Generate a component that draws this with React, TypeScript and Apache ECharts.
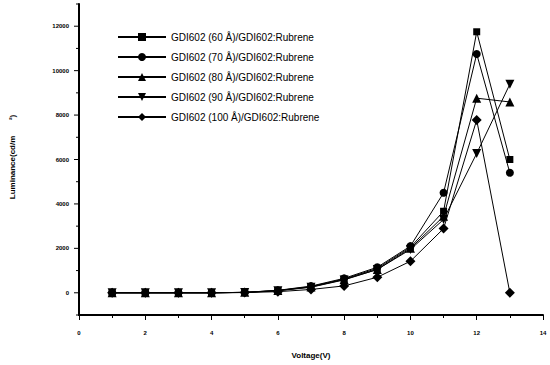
import React, { useEffect, useRef } from "react";
import * as echarts from "echarts";

const voltage = [1, 2, 3, 4, 5, 6, 7, 8, 9, 10, 11, 12, 13];
const seriesNames = [
  "GDI602 (60 Å)/GDI602:Rubrene",
  "GDI602 (70 Å)/GDI602:Rubrene",
  "GDI602 (80 Å)/GDI602:Rubrene",
  "GDI602 (90 Å)/GDI602:Rubrene",
  "GDI602 (100 Å)/GDI602:Rubrene",
];
const lum60 = [0, 0, 0, 0, 20, 100, 280, 620, 1100, 2050, 3670, 11750, 6000];
const lum70 = [0, 0, 0, 0, 20, 110, 300, 650, 1150, 2100, 4500, 10750, 5400];
const lum80 = [0, 0, 0, 0, 20, 100, 260, 600, 1050, 2000, 3440, 8760, 8590];
const lum90 = [0, 0, 0, 0, 15, 90, 250, 580, 1050, 1950, 3300, 6275, 9390];
const lum100 = [0, 0, 0, 0, 10, 50, 150, 310, 700, 1420, 2890, 7780, 0];
const allValues = [lum60, lum70, lum80, lum90, lum100];
const symbols = [
  "rect",
  "circle",
  "triangle",
  "path://M0,0 L10,0 L5,10 Z",
  "diamond",
];
const symbolSizes = [7, 8, 9, 9, 10];

export default function App() {
  const ref = useRef<HTMLDivElement>(null);
  useEffect(() => {
    if (!ref.current) return;
    const chart = echarts.init(ref.current, null, { renderer: "svg" });
    const font = "Liberation Sans";
    const tickLabel = { fontSize: 6, fontWeight: "bold", color: "#000", fontFamily: font };
    const yLabel = {
      type: "text",
      x: 12,
      y: 157,
      rotation: Math.PI / 2,
      style: {
        text: "Luminance(cd/m       ²)",
        fontSize: 8,
        fontWeight: "bold",
        fill: "#000",
        fontFamily: font,
        align: "center",
        verticalAlign: "middle",
      },
    };
    chart.setOption({
      animation: false,
      backgroundColor: "#fff",
      grid: { left: 79, right: 7, top: 4, bottom: 50 },
      legend: {
        orient: "vertical",
        left: 112,
        top: 27,
        itemWidth: 48,
        itemHeight: 10,
        itemGap: 10,
        textStyle: { fontSize: 10, color: "#000", fontFamily: font },
        data: seriesNames,
      },
      xAxis: {
        type: "value",
        min: 0,
        max: 14,
        interval: 2,
        name: "Voltage(V)",
        nameLocation: "middle",
        nameGap: 36,
        nameTextStyle: { fontSize: 8, fontWeight: "bold", color: "#000", fontFamily: font },
        axisLine: { onZero: false, lineStyle: { color: "#000", width: 2 } },
        axisTick: { inside: false, length: 5, lineStyle: { color: "#000" } },
        minorTick: { show: true, splitNumber: 2, length: 3, lineStyle: { color: "#000" } },
        axisLabel: { ...tickLabel, margin: 15 },
        splitLine: { show: false },
      },
      yAxis: {
        type: "value",
        min: -1000,
        max: 13000,
        interval: 1000,
        axisLine: { show: true, lineStyle: { color: "#000", width: 2 } },
        axisTick: { show: false },
        axisLabel: {
          ...tickLabel,
          margin: 10,
          formatter: (v: number) => (v >= 0 && v % 2000 === 0 ? String(v) : ""),
        },
        splitLine: { show: false },
      },
      graphic: [yLabel],
      series: allValues.map((vals, i) => ({
        name: seriesNames[i],
        type: "line",
        data: voltage.map((v, j) => [v, vals[j]]),
        symbol: symbols[i],
        symbolSize: symbolSizes[i],
        lineStyle: { color: "#000", width: 1 },
        itemStyle: { color: "#000" },
        z: 5,
      })),
    });
    const ticks: any[] = [];
    for (let v = -1000; v <= 13000; v += 1000) {
      const p = chart.convertToPixel({ gridIndex: 0 }, [0, v]) as number[];
      const len = v % 2000 === 0 ? 5 : 3;
      ticks.push({
        type: "line",
        shape: { x1: p[0] - len, y1: p[1], x2: p[0], y2: p[1] },
        style: { stroke: "#000", lineWidth: 1 },
      });
    }
    chart.setOption({ graphic: [yLabel, ...ticks] });
    return () => chart.dispose();
  }, []);
  return (
    <div
      ref={ref}
      style={{ position: "fixed", left: 0, top: 0, width: 550, height: 365 }}
    />
  );
}
